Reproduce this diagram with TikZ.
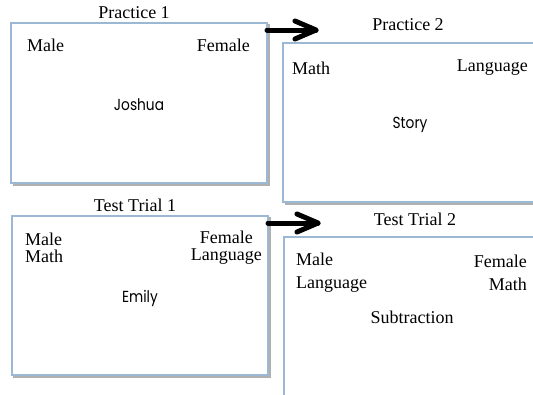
\documentclass[tikz,border=0pt]{standalone}
\usepackage{fontspec}
\setmainfont{Liberation Serif}
\newfontfamily\geofont[FakeStretch=0.86]{Poppins}
\usetikzlibrary{calc}
\definecolor{boxblue}{HTML}{9BB8D4}
\definecolor{shadowgray}{HTML}{B0B0B0}
\begin{document}
\begin{tikzpicture}[x=1pt,y=-1pt,
  panel/.style={draw=boxblue,line width=2.6pt},
  shade/.style={draw=shadowgray,line width=1.2pt},
  lbl/.style={inner sep=0pt,font=\fontsize{18}{17}\selectfont},
  widelbl/.style={inner sep=0pt,font=\fontsize{18}{23}\selectfont},
  sanslbl/.style={inner sep=0pt,font=\geofont\fontsize{16}{18}\selectfont},
  bigarrow/.style={line width=5pt,line cap=round,line join=round}]
\useasboundingbox (0,0) rectangle (533,394);
\clip (0,0) rectangle (533,394);
% panel 1
\draw[shade] (12.5,185) -- (269,185) -- (269,24);
\draw[panel] (11,23) rectangle (267,183);
\node[lbl] (t1) at (134,13) {Practice 1};
\node[lbl,anchor=west] (p1m) at (27,45) {Male};
\node[lbl,anchor=east] (p1f) at (250,45) {Female};
\node[sanslbl] (p1c) at (139,105) {Joshua};
% panel 2
\draw[shade] (284.5,204) -- (545,204);
\draw[panel] (283,43) rectangle (545,202);
\node[lbl] (t2) at (408,25) {Practice 2};
\node[lbl,anchor=west] (p2m) at (292,68) {Math};
\node[lbl,anchor=east] (p2l) at (528,68) {Language};
\node[sanslbl] (p2c) at (410,125) {Story};
% panel 3
\draw[shade] (12.5,377) -- (270,377) -- (270,217);
\draw[panel] (12,216) rectangle (268,375);
\node[lbl] (t3) at (135,205) {Test Trial 1};
\node[lbl,anchor=west,align=left] (p3m) at (25,247.5) {Male\\Math};
\node[lbl,anchor=east,align=center] (p3f) at (262,247.5) {Female\\Language};
\node[sanslbl] (p3c) at (140,298) {Emily};
% panel 4
\draw[panel] (284,237) rectangle (545,410);
\node[lbl] (t4) at (415,219) {Test Trial 2};
\node[widelbl,anchor=west,align=left] (p4m) at (296,272.5) {Male\\Language};
\node[widelbl,anchor=east,align=right] (p4f) at (527,272.5) {Female\\Math};
\node[lbl] (p4c) at (412,317) {Subtraction};
% arrows
\coordinate (a1s) at (267,30);
\coordinate (a1e) at (316,30);
\coordinate (a2s) at (268,223);
\coordinate (a2e) at (318,223);
\draw[bigarrow] (a1s) -- (a1e);
\draw[bigarrow] ($(a1e)+(-21,-9)$) -- (a1e) -- ($(a1e)+(-21,9)$);
\draw[bigarrow] (a2s) -- (a2e);
\draw[bigarrow] ($(a2e)+(-21,-9)$) -- (a2e) -- ($(a2e)+(-21,9)$);
\end{tikzpicture}
\end{document}
